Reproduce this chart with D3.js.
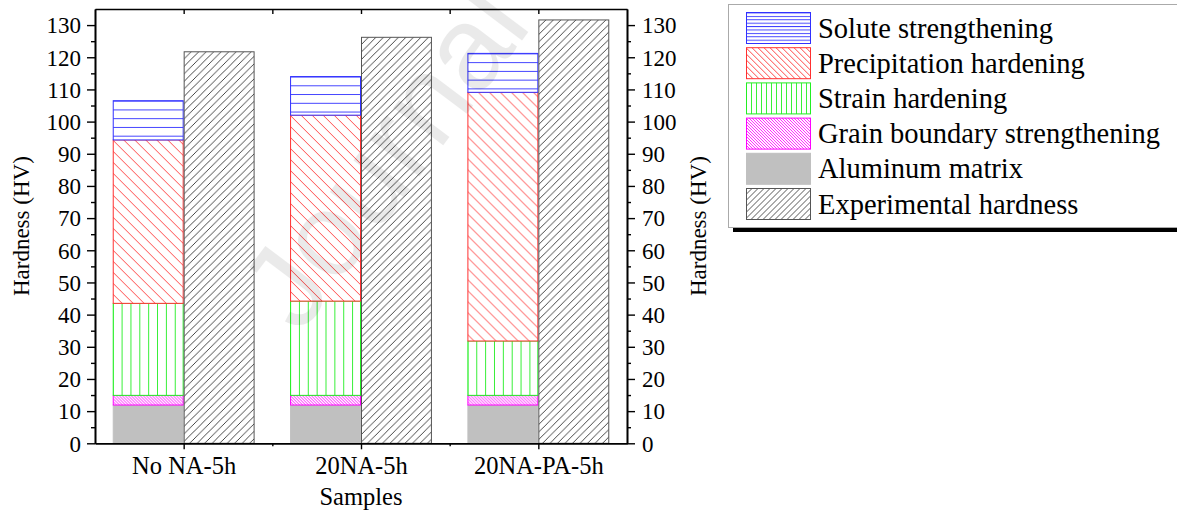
<!DOCTYPE html>
<html>
<head>
<meta charset="utf-8">
<script src="https://d3js.org/d3.v7.min.js"></script>
<style>
  body { margin: 0; background: #fff; }
  svg { display: block; font-family: "Liberation Serif", "Times New Roman", serif; }
</style>
</head>
<body>
<div id="chart"></div>
<script>
// values (HV)
var samples = ["No NA-5h", "20NA-5h", "20NA-PA-5h"];
var aluminumMatrix = [11.9, 11.9, 11.9];
var grainBoundary = [3.0, 3.0, 3.0];
var strainHardening = [28.6, 29.3, 16.9];
var precipitation = [50.8, 57.8, 77.3];
var solute = [12.2, 12.0, 12.1];
var experimental = [121.7, 126.2, 131.6];

var yTicks = d3.range(0, 131, 10);
var yMinor = d3.range(5, 131, 10);

var W = 1177, H = 512;
var plotLeft = 95, plotRight = 627, plotTop = 9, plotBottom = 443.3;

var svg = d3.select("#chart").append("svg")
  .attr("width", W).attr("height", H);
var defs = svg.append("defs");

var x = d3.scaleLinear().domain([0.5, 3.5]).range([plotLeft, plotRight]);
var y = d3.scaleLinear().domain([0, 135]).range([plotBottom, plotTop]);
var barW = x(1.4) - x(1);

var pid = 0;
// hatch pattern anchored at (ox, oy)
function hatch(kind, color, s, ox, oy) {
  var id = "p" + (pid++);
  var p = defs.append("pattern").attr("id", id)
    .attr("patternUnits", "userSpaceOnUse")
    .attr("x", ox).attr("y", oy)
    .attr("width", s).attr("height", s);
  p.append("rect").attr("width", s).attr("height", s).attr("fill", "#fff");
  var d;
  if (kind == "h") d = "M0,0.5 L" + s + ",0.5";
  else if (kind == "v") d = "M0.5,0 L0.5," + s;
  else if (kind == "back") d = "M0,0 L" + s + "," + s + " M-1," + (s - 1) + " L1," + (s + 1) + " M" + (s - 1) + ",-1 L" + (s + 1) + ",1";
  else d = "M0," + s + " L" + s + ",0 M-1,1 L1,-1 M" + (s - 1) + "," + (s + 1) + " L" + (s + 1) + "," + (s - 1);
  p.append("path").attr("d", d).attr("stroke", color).attr("stroke-width", 0.9).attr("fill", "none");
  return "url(#" + id + ")";
}

var layers = [
  { name: "Aluminum matrix", values: aluminumMatrix, kind: "solid", color: "#c0c0c0", s: 0 },
  { name: "Grain boundary strengthening", values: grainBoundary, kind: "back", color: "#ff00ff", s: 3 },
  { name: "Strain hardening", values: strainHardening, kind: "v", color: "#22ee22", s: 8.86 },
  { name: "Precipitation hardening", values: precipitation, kind: "back", color: "#ff3030", s: 11 },
  { name: "Solute strengthening", values: solute, kind: "h", color: "#3030ff", s: 8.75 }
];

// stacked bars
var gBars = svg.append("g");
samples.forEach(function (name, i) {
  var base = 0;
  var x0 = x(i + 1) - barW;
  layers.forEach(function (L) {
    var v = L.values[i];
    var y0 = y(base + v), h = y(base) - y(base + v);
    var fill = L.kind == "solid" ? L.color : hatch(L.kind, L.color, L.s, x0, y0);
    gBars.append("rect")
      .attr("x", x0 + 0.5).attr("y", y0)
      .attr("width", barW - 1).attr("height", h)
      .attr("fill", fill)
      .attr("stroke", L.color).attr("stroke-width", 1);
    base += v;
  });
  var ex = x(i + 1);
  gBars.append("rect")
    .attr("x", ex + 0.5).attr("y", y(experimental[i]))
    .attr("width", barW - 1).attr("height", y(0) - y(experimental[i]))
    .attr("fill", hatch("fwd", "#333", 7.5, ex, y(experimental[i])))
    .attr("stroke", "#555").attr("stroke-width", 1);
});

// watermark
svg.append("text")
  .attr("transform", "translate(300,335) rotate(-53)")
  .attr("font-family", "Liberation Sans, Arial, sans-serif")
  .attr("font-size", 118)
  .attr("fill", "#000").attr("opacity", 0.08)
  .text("Journal Pre-proof");

// axes
function styleAxis(g, fs) {
  g.selectAll("path.domain").attr("stroke", "#000").attr("stroke-width", 1.6);
  g.selectAll(".tick line").attr("stroke", "#000").attr("stroke-width", 1.4);
  g.selectAll("text").attr("font-family", "Liberation Serif, Times New Roman, serif")
    .attr("font-size", fs).attr("fill", "#000");
}

var yl = svg.append("g").attr("transform", "translate(" + plotLeft + ",0)")
  .call(d3.axisLeft(y).tickValues(yTicks).tickSize(8).tickPadding(6).tickSizeOuter(0));
styleAxis(yl, 23);
yl.selectAll(".tick text").attr("dy", "0.34em");
var ylm = svg.append("g").attr("transform", "translate(" + plotLeft + ",0)")
  .call(d3.axisLeft(y).tickValues(yMinor).tickSize(4).tickFormat("").tickSizeOuter(0));
styleAxis(ylm, 23);

var yr = svg.append("g").attr("transform", "translate(" + plotRight + ",0)")
  .call(d3.axisRight(y).tickValues(yTicks).tickSize(8).tickPadding(7).tickSizeOuter(0));
styleAxis(yr, 23);
yr.selectAll(".tick text").attr("dy", "0.34em");
var yrm = svg.append("g").attr("transform", "translate(" + plotRight + ",0)")
  .call(d3.axisRight(y).tickValues(yMinor).tickSize(4).tickFormat("").tickSizeOuter(0));
styleAxis(yrm, 23);

var xb = svg.append("g").attr("transform", "translate(0," + plotBottom + ")")
  .call(d3.axisBottom(x).tickValues([1, 2, 3]).tickSize(6).tickPadding(6).tickSizeOuter(0)
    .tickFormat(function (d) { return samples[d - 1]; }));
styleAxis(xb, 24.5);
xb.selectAll(".tick text").attr("dy", "0.78em");
var xbm = svg.append("g").attr("transform", "translate(0," + plotBottom + ")")
  .call(d3.axisBottom(x).tickValues([1.5, 2.5]).tickSize(3).tickFormat("").tickSizeOuter(0));
styleAxis(xbm, 24);

var xt = svg.append("g").attr("transform", "translate(0," + plotTop + ")")
  .call(d3.axisTop(x).tickValues([1, 1.5, 2, 2.5, 3]).tickSize(-5).tickFormat("").tickSizeOuter(0));
styleAxis(xt, 24);

// axis titles
svg.append("text").attr("x", (plotLeft + plotRight) / 2).attr("y", 505)
  .attr("text-anchor", "middle").attr("font-size", 24.5).text("Samples");
svg.append("text").attr("transform", "translate(29," + (plotTop + plotBottom) / 2 + ") rotate(-90)")
  .attr("text-anchor", "middle").attr("font-size", 23).text("Hardness (HV)");
svg.append("text").attr("transform", "translate(706," + (plotTop + plotBottom) / 2 + ") rotate(-90)")
  .attr("text-anchor", "middle").attr("font-size", 23).text("Hardness (HV)");

// legend
var lg = svg.append("g");
lg.append("rect").attr("x", 733).attr("y", 9).attr("width", 460).attr("height", 223).attr("fill", "#000");
lg.append("rect").attr("x", 728.5).attr("y", 4.5).attr("width", 460).attr("height", 223)
  .attr("fill", "#fff").attr("stroke", "#aaa").attr("stroke-width", 1);

var legendItems = [
  { name: "Solute strengthening", kind: "h", color: "#3030ff", s: 3.4 },
  { name: "Precipitation hardening", kind: "back", color: "#ff3030", s: 6 },
  { name: "Strain hardening", kind: "v", color: "#22ee22", s: 5 },
  { name: "Grain boundary strengthening", kind: "back", color: "#ff00ff", s: 3 },
  { name: "Aluminum matrix", kind: "solid", color: "#c0c0c0", s: 0 },
  { name: "Experimental hardness", kind: "fwd", color: "#444", s: 6, stroke: "#555" }
];
legendItems.forEach(function (L, i) {
  var ly = 12.5 + i * 35.2;
  lg.append("rect").attr("x", 746.5).attr("y", ly).attr("width", 64).attr("height", 31)
    .attr("fill", L.kind == "solid" ? L.color : hatch(L.kind, L.color, L.s, 746, ly))
    .attr("stroke", L.stroke || L.color).attr("stroke-width", 1);
  lg.append("text").attr("x", 818).attr("y", ly + 25)
    .attr("font-size", 28.5).text(L.name);
});
</script>
</body>
</html>
